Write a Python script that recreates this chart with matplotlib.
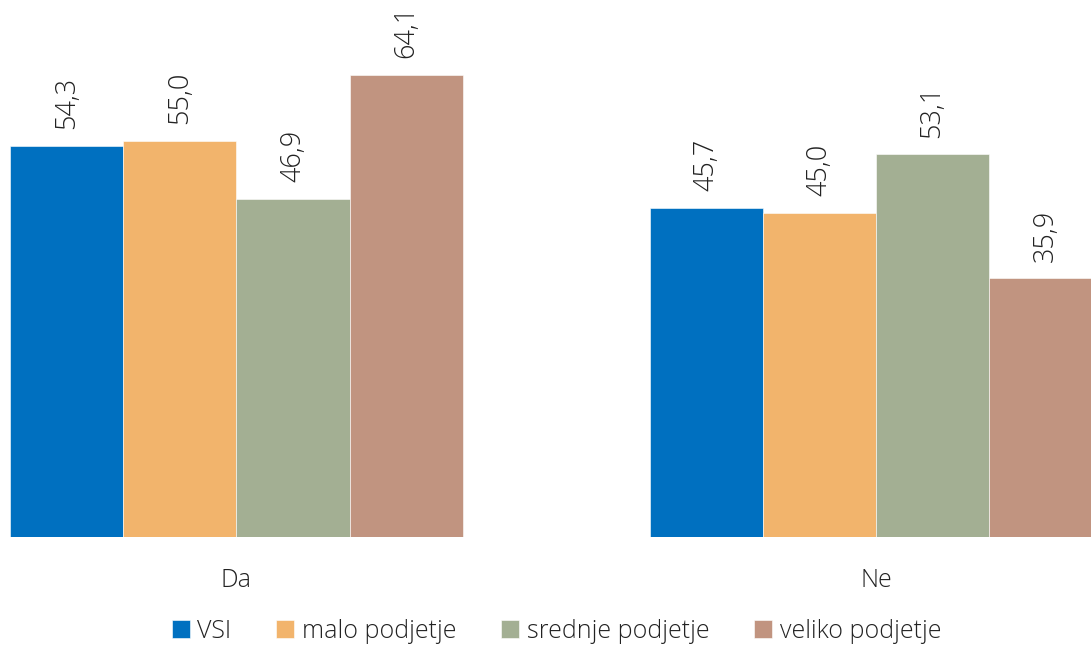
import numpy as np
import matplotlib.pyplot as plt

plt.rcParams['font.family'] = ['Open Sans', 'DejaVu Sans']

categories = ['Da', 'Ne']
series = ['VSI', 'malo podjetje', 'srednje podjetje', 'veliko podjetje']
values = {
    'VSI': [54.3, 45.7],
    'malo podjetje': [55.0, 45.0],
    'srednje podjetje': [46.9, 53.1],
    'veliko podjetje': [64.1, 35.9],
}
colors = ['#0070C0', '#F2B46C', '#A3AF93', '#C19480']

fig = plt.figure(figsize=(10.91, 6.46), dpi=100)
ax = fig.add_axes([0, 109 / 646, 1, 1 - 109 / 646])

x = np.arange(len(categories))
width = 0.177
offsets = (np.arange(len(series)) - 1.5) * width

for i, name in enumerate(series):
    bars = ax.bar(x + offsets[i], values[name], width, color=colors[i],
                  edgecolor='white', linewidth=0.4, label=name)
    for rect, v in zip(bars, values[name]):
        ax.annotate(f'{v:.1f}'.replace('.', ','),
                    (rect.get_x() + rect.get_width() / 2, rect.get_height()),
                    xytext=(0, 12), textcoords='offset points',
                    rotation=90, ha='center', va='bottom',
                    fontsize=19.5, fontweight='light', color='#222222')

ax.set_xlim(-0.3698, 1.3362)
ax.set_ylim(0, 74.5)
ax.set_xticks(x)
ax.set_xticklabels(categories, fontsize=18, fontweight='light', color='#222222')
ax.tick_params(axis='x', length=0, pad=22)
ax.set_yticks([])
for s in ax.spines.values():
    s.set_visible(False)

leg = fig.legend(loc='center', bbox_to_anchor=(0.51, 1 - 631 / 646), ncol=4,
                 frameon=False, fontsize=18, handlelength=0.72, handleheight=0.72,
                 handletextpad=0.3, columnspacing=1.8)
for t in leg.get_texts():
    t.set_fontweight('light')
    t.set_color('#222222')

fig.savefig('out.png', dpi=100)
